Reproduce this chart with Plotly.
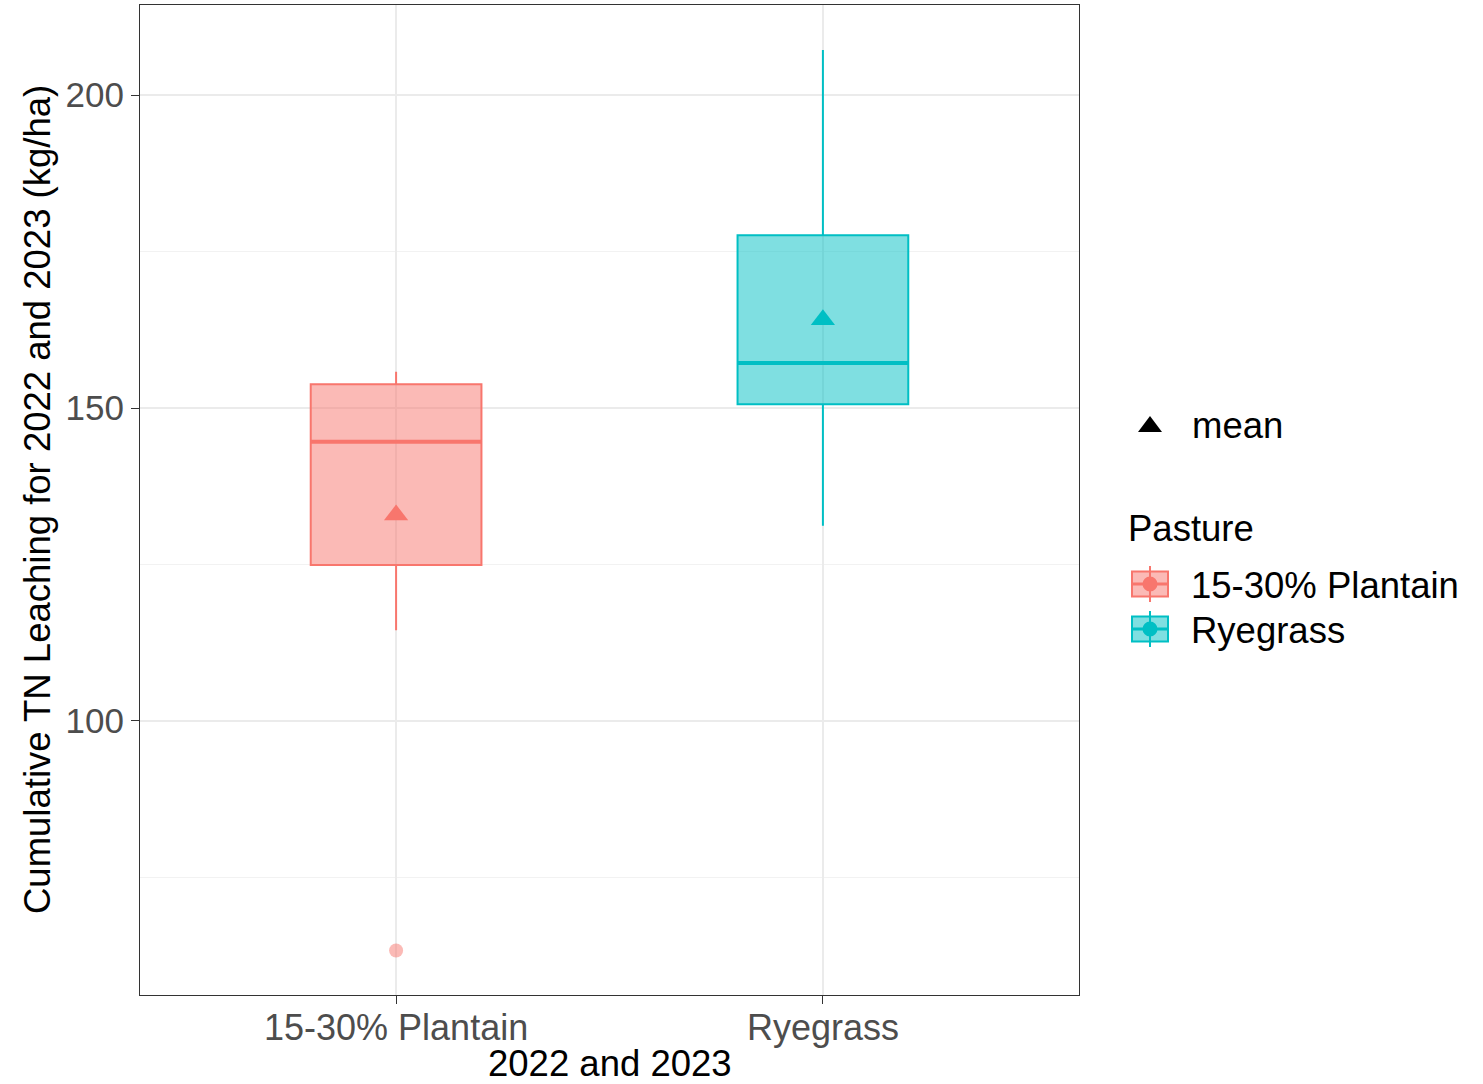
import plotly.graph_objects as go

# Cumulative TN leaching summary per pasture type (kg/ha)
categories = ["15-30% Plantain", "Ryegrass"]
q1_vals = [124.9, 150.6]
median_vals = [144.6, 157.2]
q3_vals = [153.8, 177.6]
lower_whisker = [114.5, 131.2]
upper_whisker = [155.8, 207.2]
mean_vals = [132.9, 164.1]
outlier_cat = ["15-30% Plantain"]
outlier_vals = [63.3]

line_colors = ["#F8766D", "#00BFC4"]
fill_colors = ["rgba(248,118,109,0.5)", "rgba(0,191,196,0.5)"]
pos = {c: i for i, c in enumerate(categories)}
BOX_W = 0.4

W, H = 1483, 1084
ML, MR, MT, MB = 140, 404, 5, 89
PW, PH = W - ML - MR, H - MT - MB
FONT = "Liberation Sans, Arial, sans-serif"
TXT = 36.5


def px_x(x):
    return (x - ML) / PW


def px_y(y):
    return (H - MB - y) / PH


fig = go.Figure()

for i, cat in enumerate(categories):
    fig.add_trace(go.Box(
        x=[pos[cat]], q1=[q1_vals[i]], median=[median_vals[i]], q3=[q3_vals[i]],
        lowerfence=[lower_whisker[i]], upperfence=[upper_whisker[i]],
        width=BOX_W, whiskerwidth=0, fillcolor=fill_colors[i],
        line=dict(color=line_colors[i], width=2), boxpoints=False,
        showlegend=False, hoverinfo="skip",
    ))
    # thicker median bar
    fig.add_trace(go.Scatter(
        x=[pos[cat] - BOX_W / 2, pos[cat] + BOX_W / 2],
        y=[median_vals[i], median_vals[i]], mode="lines",
        line=dict(color=line_colors[i], width=4), showlegend=False, hoverinfo="skip",
    ))
    # mean marker
    fig.add_trace(go.Scatter(
        x=[pos[cat]], y=[mean_vals[i]], mode="markers",
        marker=dict(symbol="triangle-up", size=21, color=line_colors[i]),
        showlegend=False, hoverinfo="skip",
    ))

# outliers
fig.add_trace(go.Scatter(
    x=[pos[c] for c in outlier_cat], y=outlier_vals, mode="markers",
    marker=dict(symbol="circle", size=14, color="rgba(248,118,109,0.5)", line=dict(width=0)),
    showlegend=False, hoverinfo="skip",
))

annotations = [
    dict(text="2022 and 2023", x=0.5, y=px_y(1063), xref="paper", yref="paper",
         showarrow=False, xanchor="center", yanchor="middle",
         font=dict(family=FONT, size=TXT, color="black")),
    dict(text="Cumulative TN Leaching for 2022 and 2023 (kg/ha)", x=px_x(37), y=px_y(500),
         xref="paper", yref="paper", showarrow=False, textangle=-90,
         xanchor="center", yanchor="middle", font=dict(family=FONT, size=TXT, color="black")),
    dict(text="mean", x=px_x(1190), y=px_y(426), xref="paper", yref="paper", showarrow=False,
         xanchor="left", yanchor="middle", font=dict(family=FONT, size=TXT, color="black")),
    dict(text="Pasture", x=px_x(1126), y=px_y(528), xref="paper", yref="paper", showarrow=False,
         xanchor="left", yanchor="middle", font=dict(family=FONT, size=TXT, color="black")),
]

shapes = []
# legend: mean triangle
tx0, tx1, ty_top, ty_bot = px_x(1138), px_x(1162), px_y(416), px_y(432)
shapes.append(dict(type="path", xref="paper", yref="paper",
                   path=f"M {tx0} {ty_bot} L {tx1} {ty_bot} L {(tx0 + tx1) / 2} {ty_top} Z",
                   fillcolor="black", line=dict(width=0)))

# legend: pasture keys
key_centers = [584, 629]
for i, cat in enumerate(categories):
    cy = key_centers[i]
    annotations.append(dict(text=cat, x=px_x(1189), y=px_y(cy + 1), xref="paper", yref="paper",
                            showarrow=False, xanchor="left", yanchor="middle",
                            font=dict(family=FONT, size=TXT, color="black")))
    shapes.append(dict(type="line", xref="paper", yref="paper",
                       x0=px_x(1150), x1=px_x(1150), y0=px_y(cy - 18), y1=px_y(cy + 18),
                       line=dict(color=line_colors[i], width=2)))
    shapes.append(dict(type="rect", xref="paper", yref="paper",
                       x0=px_x(1132), x1=px_x(1168), y0=px_y(cy - 12.5), y1=px_y(cy + 12.5),
                       fillcolor=fill_colors[i], line=dict(color=line_colors[i], width=2)))
    shapes.append(dict(type="line", xref="paper", yref="paper",
                       x0=px_x(1132), x1=px_x(1168), y0=px_y(cy), y1=px_y(cy),
                       line=dict(color=line_colors[i], width=3)))
    shapes.append(dict(type="circle", xref="paper", yref="paper",
                       x0=px_x(1150 - 7.5), x1=px_x(1150 + 7.5), y0=px_y(cy + 7.5), y1=px_y(cy - 7.5),
                       fillcolor=line_colors[i], line=dict(width=0)))

fig.update_layout(
    width=W, height=H,
    margin=dict(l=ML, r=MR, t=MT, b=MB, autoexpand=False),
    plot_bgcolor="white", paper_bgcolor="white",
    showlegend=False, boxmode="overlay",
    font=dict(family=FONT, size=TXT, color="#4D4D4D"),
    annotations=annotations, shapes=shapes,
    xaxis=dict(
        range=[-0.6, 1.6], tickmode="array", tickvals=list(pos.values()), ticktext=categories,
        showgrid=True, gridcolor="#EBEBEB", gridwidth=1.5, zeroline=False,
        showline=True, mirror=True, linecolor="#333333", linewidth=1.2,
        ticks="outside", ticklen=8, tickwidth=1.2, tickcolor="#333333",
        ticklabelstandoff=-7,
        tickfont=dict(family=FONT, size=36, color="#4D4D4D"),
    ),
    yaxis=dict(
        range=[56.2, 214.4], tickmode="linear", tick0=0, dtick=50,
        showgrid=True, gridcolor="#EBEBEB", gridwidth=1.5, zeroline=False,
        showline=True, mirror=True, linecolor="#333333", linewidth=1.2,
        ticks="outside", ticklen=8, tickwidth=1.2, tickcolor="#333333",
        tickfont=dict(family=FONT, size=35, color="#4D4D4D"),
        minor=dict(dtick=25, tick0=0, showgrid=True, gridcolor="#F2F2F2", gridwidth=1, ticks=""),
    ),
)

fig.write_html("out.html")
